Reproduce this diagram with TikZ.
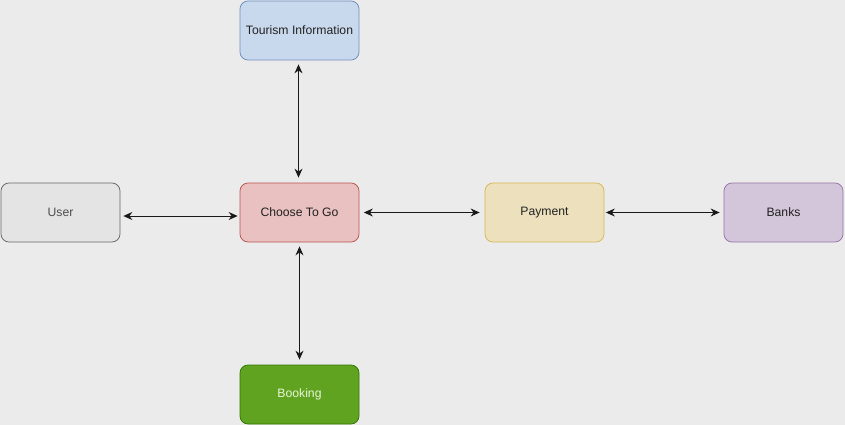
\documentclass[tikz,border=0pt]{standalone}
\usepackage{fontspec}
\setmainfont{Liberation Sans}
\usetikzlibrary{arrows.meta}
\definecolor{bg}{HTML}{EBEBEB}
\definecolor{tfill}{HTML}{C9D9ED}\definecolor{tdraw}{HTML}{6C8EBF}
\definecolor{ufill}{HTML}{E4E4E4}\definecolor{udraw}{HTML}{666666}
\definecolor{cfill}{HTML}{E8C1C0}\definecolor{cdraw}{HTML}{B85450}
\definecolor{pfill}{HTML}{EDE1BD}\definecolor{pdraw}{HTML}{D6B656}
\definecolor{bfill}{HTML}{D4C6DA}\definecolor{bdraw}{HTML}{9673A6}
\definecolor{kfill}{HTML}{60A320}\definecolor{kdraw}{HTML}{2D7600}
\definecolor{ktext}{HTML}{E8F5D8}
\definecolor{dtext}{HTML}{222222}\definecolor{gtext}{HTML}{4D4D4D}
\tikzset{
  box/.style={rectangle, rounded corners=8pt, minimum width=119pt, minimum height=59pt,
    inner sep=0pt, line width=0.75pt, font=\fontsize{12.2pt}{14pt}\selectfont, text=dtext},
  biarrow/.style={draw=black!90, line width=0.9pt,
    {Stealth[length=9pt,width=8pt,inset=3pt]}-{Stealth[length=9pt,width=8pt,inset=3pt]}}
}
\begin{document}
\begin{tikzpicture}[x=1pt,y=-1pt]
\fill[bg] (0,0) rectangle (845,425);
\useasboundingbox (0,0) rectangle (845,425);
\node[box, fill=tfill, draw=tdraw] (tour) at (299.5,30.5) {Tourism Information};
\node[box, fill=ufill, draw=udraw, text=gtext] (user) at (60.5,212.5) {User};
\node[box, fill=cfill, draw=cdraw] (choose) at (299.5,212.5) {Choose To Go};
\node[box, fill=pfill, draw=pdraw] (pay) at (544.5,212.5) {Payment};
\node[box, fill=bfill, draw=bdraw] (banks) at (783.5,212.5) {Banks};
\node[box, fill=kfill, draw=kdraw, text=ktext] (book) at (299.5,394.5) {Booking};
\draw[biarrow] ([xshift=3pt,yshift=-3.5pt]user.east) -- ([xshift=-2pt,yshift=-3.5pt]choose.west);
\draw[biarrow] ([xshift=4.5pt]choose.east) -- ([xshift=-5pt]pay.west);
\draw[biarrow] ([xshift=1.5pt]pay.east) -- ([xshift=-4pt]banks.west);
\draw[biarrow] ([xshift=-1pt,yshift=-4pt]tour.south) -- ([xshift=-1pt,yshift=5pt]choose.north);
\draw[biarrow] ([yshift=-4pt]choose.south) -- ([yshift=5pt]book.north);
\end{tikzpicture}
\end{document}
